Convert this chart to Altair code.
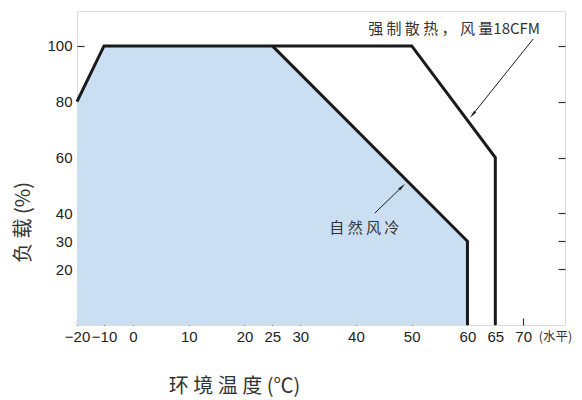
import altair as alt
import pandas as pd

# ---- data ----
natural_x = [-20, -10, 25, 60, 60]
natural_y = [80, 100, 100, 30, 0]
forced_x = [-20, -10, 50, 65, 65]
forced_y = [80, 100, 100, 60, 0]
x_ticks = [-20, -10, 0, 10, 20, 25, 30, 40, 50, 60, 65, 70]
y_ticks = [20, 30, 40, 60, 80, 100]

forced_label = "强 制 散 热 ， 风 量18CFM"
natural_label = "自 然 风 冷"

natural = pd.DataFrame({"t": natural_x, "load": natural_y, "i": range(len(natural_x))})
forced = pd.DataFrame({"t": forced_x, "load": forced_y, "i": range(len(forced_x))})
natural_edge = natural.iloc[2:].reset_index(drop=True)

arrows = pd.DataFrame({
    "t": [71.8, 43.4], "load": [102.5, 40.1],
    "t2": [60.9, 48.3], "load2": [75.3, 49.6],
    "ang": [219.6, 46.0],
})
labels = pd.DataFrame({
    "t": [57.6, 41.5],
    "load": [106.2, 34.8],
    "text": [forced_label, natural_label],
})
unit_label = pd.DataFrame({"t": [75.8], "load": [-4.4], "text": ["(水平)"]})

FONT = "Liberation Sans Narrow, Arial Narrow, Liberation Sans, Noto Sans CJK SC"
CJK = "Noto Sans CJK SC"

xscale = alt.Scale(domain=[-20, -10, 0, 77.5], range=[0, 27, 56, 488], zero=False, nice=False)
yscale = alt.Scale(domain=[0, 112.5], zero=False, nice=False)

x_axis = alt.Axis(
    values=x_ticks, title="环 境 温 度 (℃)", orient="bottom", offset=-7, tickSize=7,
    tickColor="#333333", tickWidth=1.2, domain=False, grid=False, labelPadding=4,
    labelFontSize=15, labelFont=FONT, labelColor="#222222", labelOverlap=False,
    labelFlush=False,
    titleFont=CJK, titleFontSize=20, titleFontWeight="normal", titleColor="#333333",
    titleX=157, titleY=74, titleAlign="center", titleBaseline="alphabetic", titleAngle=0,
)
y_axis = alt.Axis(
    values=y_ticks, title="负 载 (%)", orient="left", offset=-7, tickSize=7,
    tickColor="#333333", tickWidth=1.2, domain=False, grid=False, labelPadding=5,
    labelFontSize=15, labelFont=FONT, labelColor="#222222", labelFlush=False,
    titleFont=CJK, titleFontSize=20, titleFontWeight="normal", titleColor="#333333",
    titleX=-61, titleY=211, titleAlign="center", titleBaseline="middle", titleAngle=270,
)
y_axis_r = alt.Axis(
    values=y_ticks, title=None, orient="right", offset=-7, tickSize=7,
    tickColor="#333333", tickWidth=1.2, domain=False, grid=False, labels=False,
)

x_enc = alt.X("t:Q", scale=xscale, axis=x_axis)
y_enc = alt.Y("load:Q", scale=yscale, axis=y_axis)

area = alt.Chart(natural).mark_area(color="#cadff2", opacity=1, strokeWidth=0).encode(
    x=x_enc, y=y_enc, y2=alt.datum(0)
)
forced_line = alt.Chart(forced).mark_line(color="#1a1a1a", strokeWidth=3, strokeCap="butt").encode(
    x=alt.X("t:Q", scale=xscale), y=alt.Y("load:Q", scale=yscale), order="i:O"
)
natural_line = alt.Chart(natural_edge).mark_line(color="#1a1a1a", strokeWidth=3, strokeCap="butt").encode(
    x=alt.X("t:Q", scale=xscale), y=alt.Y("load:Q", scale=yscale), order="i:O"
)
arrow_shafts = alt.Chart(arrows).mark_rule(color="#1a1a1a", strokeWidth=1).encode(
    x=alt.X("t:Q", scale=xscale), y=alt.Y("load:Q", scale=yscale),
    x2="t2:Q", y2="load2:Q",
)
arrow_heads = alt.Chart(arrows).mark_point(
    shape="M0,-1L0.32,1L-0.32,1Z", filled=True, color="#1a1a1a", size=70, opacity=1
).encode(
    x=alt.X("t2:Q", scale=xscale), y=alt.Y("load2:Q", scale=yscale),
    angle=alt.Angle("ang:Q", scale=None),
)
texts = alt.Chart(labels).mark_text(font=CJK, fontSize=15, color="#333333", align="center", baseline="middle").encode(
    x=alt.X("t:Q", scale=xscale), y=alt.Y("load:Q", scale=yscale), text="text:N"
)
unit_text = alt.Chart(unit_label).mark_text(font=CJK, fontSize=12.5, color="#333333", align="center", baseline="middle").encode(
    x=alt.X("t:Q", scale=xscale), y=alt.Y("load:Q", scale=yscale), text="text:N"
)
right_axis = alt.Chart(natural).mark_point(opacity=0).encode(
    x=alt.X("t:Q", scale=xscale), y=alt.Y("load:Q", scale=yscale, axis=y_axis_r)
)

base = alt.layer(area, forced_line, natural_line, arrow_shafts, arrow_heads, texts, unit_text)
chart = alt.layer(base, right_axis).resolve_scale(y="independent").properties(
    width=488, height=314,
    autosize=alt.AutoSizeParams(type="none"),
    padding={"left": 69, "top": 3, "right": 9, "bottom": 74},
).configure_view(stroke="#333333", strokeWidth=1.5).configure(background="white")

chart.save("out.html", embed_options={"renderer": "svg", "actions": False})
